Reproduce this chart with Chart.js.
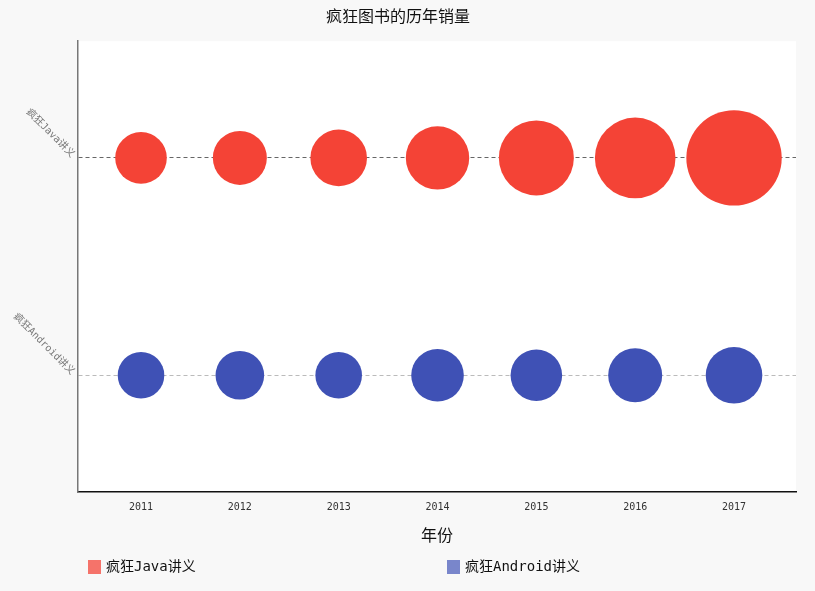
<!DOCTYPE html>
<html>
<head>
<meta charset="utf-8">
<script src="https://cdn.jsdelivr.net/npm/chart.js@4.4.0/dist/chart.umd.min.js"></script>
<style>
  html, body { margin: 0; padding: 0; background: #f8f8f8; }
  #wrap { width: 815px; height: 591px; }
</style>
</head>
<body>
<div id="wrap"><canvas id="BookChart" width="815" height="591"></canvas></div>
<script>
// chart data
const years = [2011, 2012, 2013, 2014, 2015, 2016, 2017];
const books = ['疯狂Android讲义', '疯狂Java讲义'];   // y = 0, 1
const javaSales = [25.8, 27, 28.3, 31.7, 37.5, 40.3, 47.7];     // bubble size
const androidSales = [23.3, 24.3, 23.3, 26.3, 25.8, 27, 28.3];
const seriesColors = ['#f44336', '#3f51b5'];
const legendColors = ['#f5736a', '#7986cb'];

const FONT = "'DejaVu Sans Mono', 'Noto Sans CJK SC', monospace";

function toPoints(sizes, row) {
    return years.map(function(y, i){ return {x: y, y: row, r: sizes[i]}; });
}

const extras = {
    id: 'extras',
    beforeDraw: function(chart){
        const ctx = chart.ctx, a = chart.chartArea;
        ctx.save();
        ctx.fillStyle = '#ffffff';
        ctx.fillRect(a.left, a.top, a.right - a.left, a.bottom - a.top);
        ctx.restore();
    },
    afterDraw: function(chart){
        const ctx = chart.ctx, a = chart.chartArea;
        const yScale = chart.scales.y;
        // rotated category labels on the y axis
        ctx.save();
        ctx.font = '10px ' + FONT;
        ctx.fillStyle = '#777';
        ctx.textAlign = 'right';
        ctx.textBaseline = 'middle';
        books.forEach(function(name, i){
            const py = yScale.getPixelForValue(i);
            ctx.save();
            ctx.translate(a.left - 5, py - 2);
            ctx.rotate(Math.PI / 4);
            ctx.fillText(name, 0, 0);
            ctx.restore();
        });
        ctx.restore();

        // legend
        const items = [
            {label: '疯狂Java讲义', color: legendColors[0], x: 88},
            {label: '疯狂Android讲义', color: legendColors[1], x: 447}
        ];
        ctx.save();
        ctx.font = '14px ' + FONT;
        ctx.textBaseline = 'middle';
        items.forEach(function(it){
            ctx.fillStyle = it.color;
            ctx.fillRect(it.x, 560, 13, 14);
            ctx.fillStyle = '#111';
            ctx.fillText(it.label, it.x + 18, 567);
        });
        ctx.restore();
    }
};

const ctx = document.getElementById('BookChart').getContext('2d');
new Chart(ctx, {
    type: 'bubble',
    data: {
        datasets: [
            {
                label: books[1],
                data: toPoints(javaSales, 1),
                backgroundColor: seriesColors[0],
                borderWidth: 0,
                hoverBorderWidth: 0
            },
            {
                label: books[0],
                data: toPoints(androidSales, 0),
                backgroundColor: seriesColors[1],
                borderWidth: 0,
                hoverBorderWidth: 0
            }
        ]
    },
    options: {
        responsive: false,
        animation: false,
        devicePixelRatio: 1,
        layout: { autoPadding: false, padding: { left: 0, right: 19, top: 0, bottom: 0 } },
        plugins: {
            legend: { display: false },
            tooltip: { enabled: false },
            title: {
                display: true,
                text: '疯狂图书的历年销量',
                color: '#111',
                font: { family: FONT, size: 16, weight: 'normal' },
                padding: { top: 8, bottom: 14 }
            }
        },
        scales: {
            x: {
                type: 'linear',
                min: 2010.3625,
                max: 2017.627,
                afterBuildTicks: function(scale){
                    scale.ticks = years.map(function(v){ return {value: v}; });
                },
                afterFit: function(scale){ scale.height = 99; },
                grid: { display: false, drawTicks: false },
                border: { display: true, color: '#111', width: 1.5 },
                ticks: {
                    color: '#333',
                    padding: 9,
                    maxRotation: 0,
                    font: { family: FONT, size: 10 },
                    callback: function(v){ return String(v); }
                },
                title: {
                    display: true,
                    text: '年份',
                    color: '#111',
                    font: { family: FONT, size: 16 },
                    padding: { top: 4, bottom: 45 }
                }
            },
            y: {
                type: 'linear',
                min: -0.537,
                max: 1.537,
                afterBuildTicks: function(scale){
                    scale.ticks = [{value: 0}, {value: 1}];
                },
                afterFit: function(scale){ scale.width = 78; },
                ticks: { display: false },
                grid: {
                    drawTicks: false,
                    lineWidth: 1,
                    color: function(c){ return c.tick && c.tick.value === 1 ? '#666' : '#bbb'; }
                },
                border: { display: true, color: '#777', width: 1.5, dash: [4, 3] }
            }
        }
    },
    plugins: [extras]
});
</script>
</body>
</html>
